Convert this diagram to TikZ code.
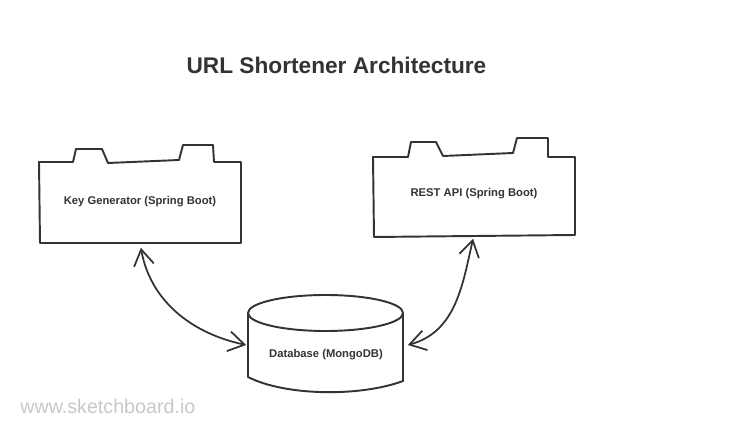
\documentclass[tikz,border=0pt]{standalone}
\usepackage{fontspec}
\setmainfont{Liberation Sans}
\usetikzlibrary{arrows.meta, positioning}
\definecolor{ink}{HTML}{333333}
\definecolor{wmgray}{HTML}{C8C8C8}

\begin{document}
\begin{tikzpicture}[
    x=0.02cm, y=-0.02cm,
    outline/.style={draw=ink, line width=1.1pt, line join=round},
    component/.style={minimum width=4.02cm, minimum height=1.62cm, inner sep=0pt, text=ink, font=\bfseries\fontsize{6.4}{7.5}\selectfont},
    link/.style={{Straight Barb[length=0.32cm,width=0.4cm]}-{Straight Barb[length=0.32cm,width=0.4cm]}, draw=ink, line width=1pt}
]
    \useasboundingbox (0,0) rectangle (731,435);

    % Title
    \node[text=ink, font=\bfseries\fontsize{12.9}{15}\selectfont] (title) at (336.5,65) {URL Shortener Architecture};

    % Components
    \node[component] (keygen) at (140,202) {Key Generator (Spring Boot)};
    \node[component] (restapi) at (474,194) {REST API (Spring Boot)};
    \node[minimum width=3.1cm, inner sep=0pt, text=ink, font=\bfseries\fontsize{6.4}{7.5}\selectfont] (db) at (326,355) {Database (MongoDB)};

    % Component outlines
    \draw[outline] (39,162) -- (73,162) -- (76,149) -- (102,149) -- (108,163) -- (179,160)
        -- (183,145) -- (213,145) -- (214,162) -- (241,162) -- (241,243) -- (40,243) -- cycle;
    \draw[outline] (373,157) -- (408,157) -- (411,142) -- (436,142) -- (443,156) -- (513,153)
        -- (517,138) -- (548,138) -- (548,157) -- (575,157) -- (575,235) -- (374,237) -- cycle;

    % Database cylinder
    \draw[outline] (325.5,313) ellipse [x radius=77.5, y radius=18];
    \draw[outline] (248,313) -- (248,377) .. controls (285,396) and (360,397) .. (403,381) -- (403,313);

    % Arrows
    \draw[link, shorten <=0.1cm] (keygen.south) to[out=-80, in=168] ([yshift=0.2cm, xshift=-0.04cm]db.west);
    \draw[link, shorten >=0.08cm] ([yshift=0.2cm, xshift=0.08cm]db.east) to[out=15, in=-103] (restapi.south);

    % Watermark
    \node[anchor=west, inner sep=0pt, text=wmgray, font=\fontsize{11.2}{13}\selectfont] (watermark) at (20,406) {www.sketchboard.io};
\end{tikzpicture}
\end{document}
